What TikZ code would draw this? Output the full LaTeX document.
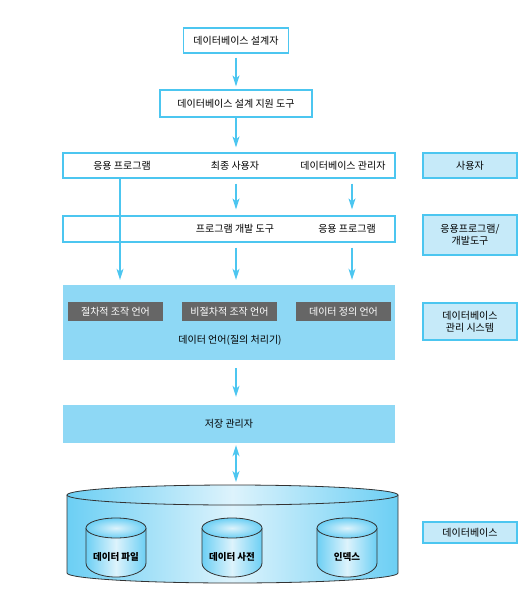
\documentclass[tikz,border=0pt]{standalone}
\usepackage{fontspec}
\setmainfont{Noto Sans CJK KR}
\usetikzlibrary{arrows.meta}

\definecolor{lnc}{HTML}{4CC6F0}
\definecolor{dbmsfill}{HTML}{8ED8F5}
\definecolor{lblfill}{HTML}{C6EAF9}
\definecolor{lgrey}{HTML}{666666}
\definecolor{cyl}{HTML}{6CCFF4}
\definecolor{cyllt}{HTML}{DDF3FC}

\begin{document}
\begin{tikzpicture}[x=1pt,y=1pt,>={Stealth[length=11pt,width=7pt,inset=3pt]},
  font=\fontsize{10}{12}\selectfont,
  wbox/.style={draw=lnc,line width=1.2pt,fill=white,inner sep=0pt},
  lbox/.style={draw=lnc,line width=1.6pt,fill=lblfill,align=center,inner sep=0pt,minimum width=94pt},
  gbox/.style={fill=lgrey,text=white,minimum width=95pt,minimum height=19pt,inner sep=0pt},
  flow/.style={draw=lnc,line width=1.2pt}]
\useasboundingbox (0,0) rectangle (532,-602);

\coordinate (k1) at (120,0);
\coordinate (k2) at (236,0);
\coordinate (k3) at (352,0);

% designer and design tools
\node[wbox,minimum width=105pt,minimum height=25pt] (dsg) at (236,-40.5) {데이터베이스 설계자};
\node[wbox,minimum width=152pt,minimum height=27pt] (dst) at (236,-103.5) {데이터베이스 설계 지원 도구};
\draw[flow,->,shorten <=4pt,shorten >=3pt] (dsg) -- (dst);

% users
\node[wbox,minimum width=332pt,minimum height=25pt] (usr) at (229,-165.5) {};
\node (usr1) at (122,-165.5) {응용 프로그램};
\node (usr2) at (235,-165.5) {최종 사용자};
\node (usr3) at (343,-165.5) {데이터베이스 관리자};
\draw[flow,->,shorten >=5pt] (dst) -- (dst |- usr.north);

% application programs / tools
\node[wbox,fill=none,minimum width=332pt,minimum height=26pt] (dev) at (229,-229) {};
\node (dev1) at (235,-229) {프로그램 개발 도구};
\node (dev2) at (347,-229) {응용 프로그램};
\draw[flow,->,shorten <=5pt,shorten >=6pt] (k2 |- usr.south) -- (k2 |- dev.north);
\draw[flow,->,shorten <=5pt,shorten >=6pt] (k3 |- usr.south) -- (k3 |- dev.north);

% DBMS
\node[fill=dbmsfill,minimum width=332pt,minimum height=75pt,inner sep=0pt] (dbms) at (229,-322.5) {};
\node[gbox] (lang1) at (115.5,-311.5) {절차적 조작 언어};
\node[gbox] (lang2) at (229.5,-311.5) {비절차적 조작 언어};
\node[gbox] (lang3) at (343.5,-311.5) {데이터 정의 언어};
\node (qry) at (230,-340) {데이터 언어(질의 처리기)};
\draw[flow,->,shorten >=5pt] (k1 |- usr.south) -- (k1 |- dbms.north);
\draw[flow,->,shorten <=5pt,shorten >=5pt] (k2 |- dev.south) -- (k2 |- dbms.north);
\draw[flow,->,shorten <=5pt,shorten >=5pt] (k3 |- dev.south) -- (k3 |- dbms.north);

% storage manager
\node[fill=dbmsfill,minimum width=332pt,minimum height=38pt,inner sep=0pt] (sto) at (229,-424) {저장 관리자};
\draw[flow,->,shorten <=8pt,shorten >=8pt] (k2 |- dbms.south) -- (k2 |- sto.north);

% database cylinder
\coordinate (dbtop) at (236,-485);
\path[left color=cyl,right color=cyl,middle color=cyllt] (67,-495) -- (67,-573)
  arc[start angle=180,end angle=360,x radius=165.5,y radius=10] -- (398,-495)
  arc[start angle=0,end angle=180,x radius=165.5,y radius=10] -- cycle;
\draw[black!80,line width=0.8pt] (67,-495) -- (67,-573)
  arc[start angle=180,end angle=360,x radius=165.5,y radius=10] -- (398,-495);
\draw[black!80,line width=0.8pt,left color=cyl,right color=cyl,middle color=cyllt]
  (232.5,-495) ellipse[x radius=165.5,y radius=10];
\draw[flow,<->,shorten <=2pt,shorten >=3pt] (k2 |- sto.south) -- (dbtop);

\foreach \cx/\txt/\nm in {116/데이터 파일/dfl,232/데이터 사전/ddc,347/인덱스/idx}{
  \path[left color=cyl,right color=cyl,middle color=cyllt] ({\cx-30},-528) -- ({\cx-30},-563)
    arc[start angle=180,end angle=360,x radius=30,y radius=14] -- ({\cx+30},-528)
    arc[start angle=0,end angle=180,x radius=30,y radius=10] -- cycle;
  \draw[black!80,line width=0.8pt] ({\cx-30},-528) -- ({\cx-30},-563)
    arc[start angle=180,end angle=360,x radius=30,y radius=14] -- ({\cx+30},-528);
  \draw[black!80,line width=0.8pt,inner color=cyllt,outer color=cyl]
    (\cx,-528) ellipse[x radius=30,y radius=10];
  \node[font=\fontsize{9.5}{11.5}\selectfont\bfseries] (\nm) at (\cx,-557) {\txt};
}

% labels on the right
\node[lbox,minimum height=25pt] (rusr) at (470,-165.5) {사용자};
\node[lbox,minimum height=40pt] (rdev) at (470,-235) {응용프로그램/\\개발도구};
\node[lbox,minimum height=37pt] (rdbms) at (470,-321.5) {데이터베이스\\관리 시스템};
\node[lbox,minimum height=21pt] (rdb) at (470,-532.5) {데이터베이스};
\end{tikzpicture}
\end{document}
